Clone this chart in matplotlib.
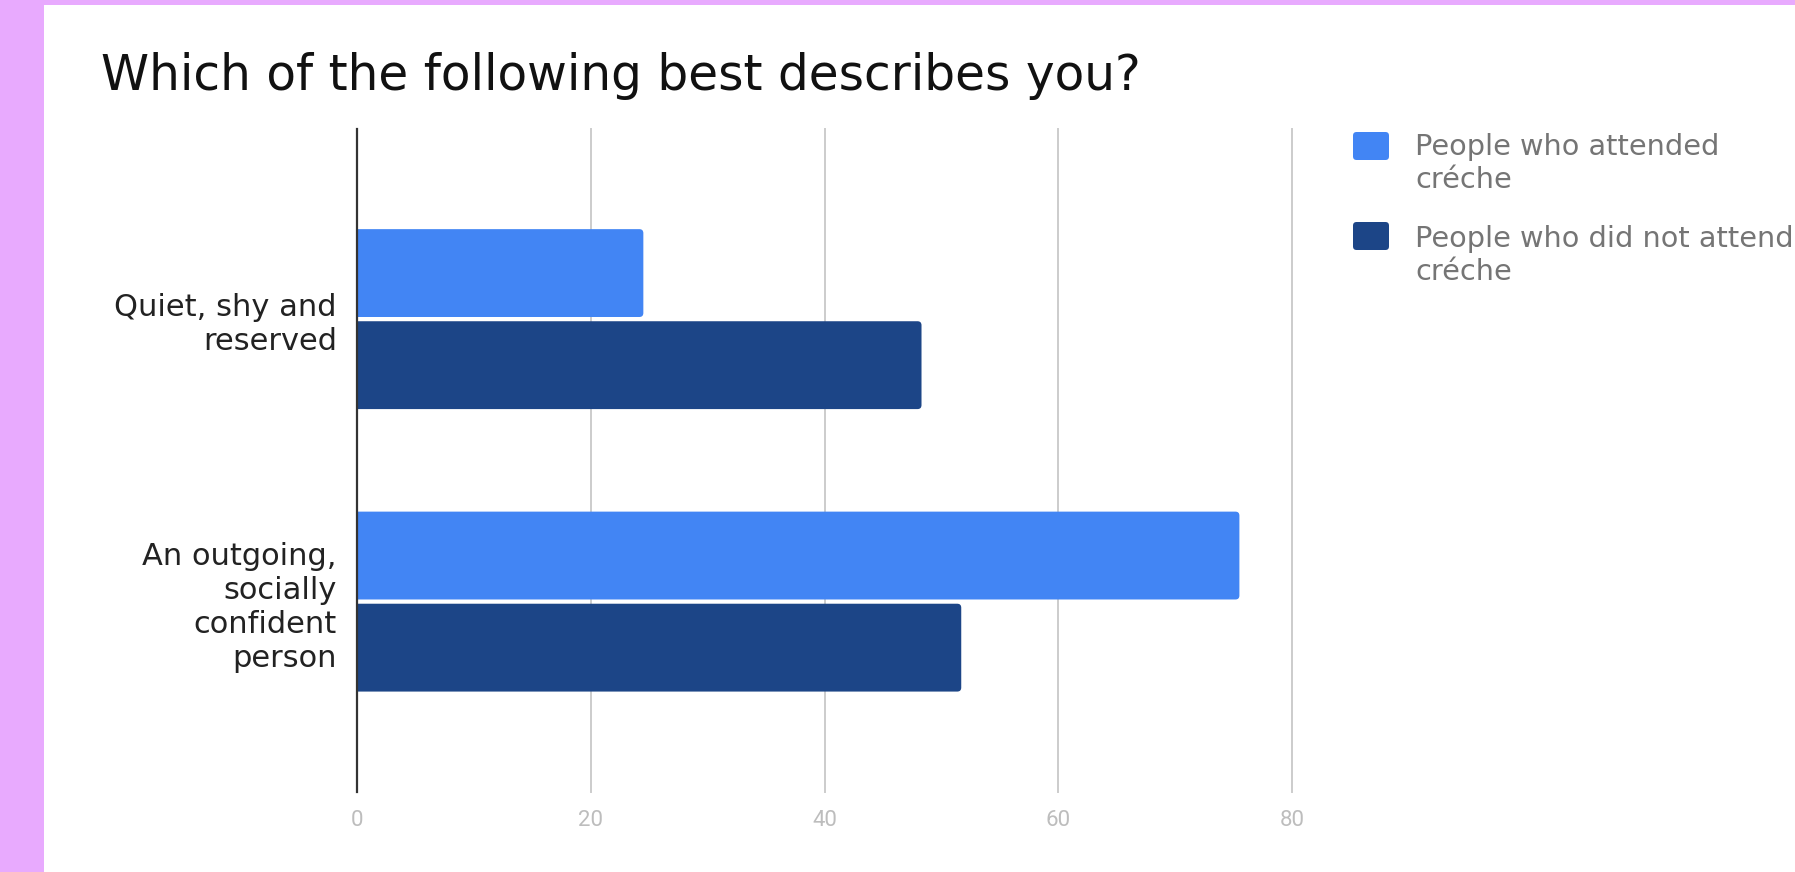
import matplotlib
matplotlib.use("Agg")
import matplotlib.pyplot as plt
from matplotlib.patches import FancyBboxPatch, Rectangle

# Survey results (percent of respondents)
categories = ["Quiet, shy and\nreserved", "An outgoing,\nsocially\nconfident\nperson"]
series_names = ["People who attended\ncréche", "People who did not attend\ncréche"]
attended = [24.5, 75.5]
not_attended = [48.3, 51.7]
x_ticks = [0, 20, 40, 60, 80]
title = "Which of the following best describes you?"

colors = ["#4285F4", "#1C4587"]

W, H = 1795, 872
DPI = 100
fig = plt.figure(figsize=(W / DPI, H / DPI), dpi=DPI)
fig.patch.set_facecolor("#E8AAFE")


def fx(px):
    return px / W


def fy(py):
    return 1 - py / H


# white card
fig.patches.append(Rectangle((fx(44), 0), 1 - fx(44), fy(5), transform=fig.transFigure,
                             facecolor="white", edgecolor="none", zorder=-5))

ax_left, ax_right, ax_top, ax_bottom = 357, 1292, 129, 792
ax = fig.add_axes([fx(ax_left), fy(ax_bottom), fx(ax_right - ax_left), (ax_bottom - ax_top) / H])
ax.set_facecolor("none")
ax.set_zorder(2)

bar_h = 0.311
offset = 0.163
y = list(range(len(categories)))

# plot scale: px per data unit, used for rounded bar ends
px_per_x = (ax_right - ax_left) / 80.0
ylim = (1.674, -0.673)
px_per_y = (ax_bottom - ax_top) / (ylim[0] - ylim[1])

for vals, col, sign in [(attended, colors[0], -1), (not_attended, colors[1], 1)]:
    bars = ax.barh([v + sign * offset for v in y], vals, height=bar_h, color=col)
    for b in bars:
        x0, y0 = b.get_x(), b.get_y()
        w, h = b.get_width(), b.get_height()
        b.set_visible(False)
        r = 4.0 / px_per_x
        patch = FancyBboxPatch((x0 - r, y0), w + r, h,
                               boxstyle=f"round,pad=0,rounding_size={r}",
                               mutation_aspect=px_per_x / px_per_y,
                               facecolor=col, edgecolor="none", zorder=2)
        ax.add_patch(patch)

ax.set_xlim(0, 80)
ax.set_ylim(*ylim)

ax.set_xticks(x_ticks)
ax.set_xticklabels([str(t) for t in x_ticks], family="Roboto", fontsize=16, color="#BDBDBD")
ax.set_yticks(y)
ax.set_yticklabels(categories, family="DejaVu Sans", fontsize=22, color="#222222",
                   linespacing=1.22)
ax.tick_params(axis="both", length=0)
ax.tick_params(axis="x", pad=13)
ax.tick_params(axis="y", pad=14.5)

ax.grid(axis="x", color="#CCCCCC", linewidth=1.4, zorder=1)
ax.set_axisbelow(True)
for gl in ax.get_xgridlines():
    gl.set_clip_on(False)
ax.axvline(0, color="#333333", linewidth=1.6, zorder=3, clip_on=False)
for s in ax.spines.values():
    s.set_visible(False)

fig.text(fx(101), fy(90), title, family="DejaVu Sans", fontsize=35, color="#111111",
         va="baseline", ha="left")

# legend
leg_entries = [(132, 155), (222, 247)]
for (sw_top, base), name, col in zip(leg_entries, series_names, colors):
    fig.patches.append(FancyBboxPatch((fx(1353), fy(sw_top + 28)), fx(36), 28 / H,
                                      boxstyle="round,pad=0,rounding_size=0.002",
                                      mutation_aspect=W / H,
                                      transform=fig.transFigure, facecolor=col,
                                      edgecolor="none"))
    lines = name.split("\n")
    for i, line in enumerate(lines):
        fig.text(fx(1415), fy(base + i * 33), line, family="DejaVu Sans", fontsize=20.7,
                 color="#757575", va="baseline", ha="left")

fig.savefig("out.png", dpi=DPI, facecolor=fig.get_facecolor())
